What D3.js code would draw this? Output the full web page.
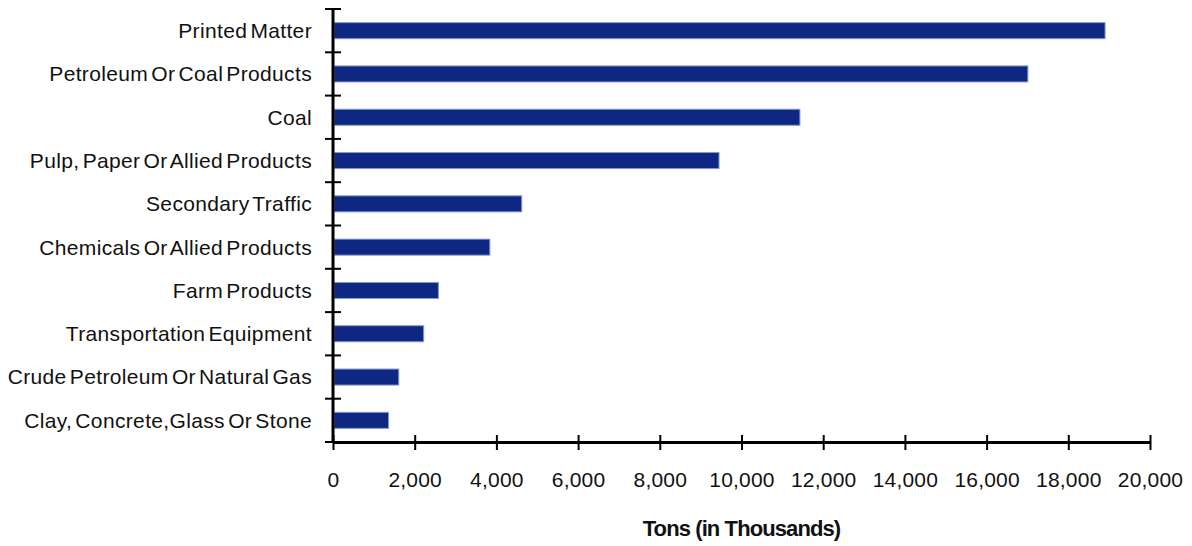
<!DOCTYPE html>
<html>
<head>
<meta charset="utf-8">
<script src="https://cdn.jsdelivr.net/npm/d3@7"></script>
<style>
  body { margin: 0; background: #fff; }
  #chart text { font-family: "Liberation Sans", Arial, sans-serif; fill: #111; }
</style>
</head>
<body>
<div id="chart"></div>
<script>
// commodity tonnage, thousands of tons
var categories = [
  "Printed Matter",
  "Petroleum Or Coal Products",
  "Coal",
  "Pulp, Paper Or Allied Products",
  "Secondary Traffic",
  "Chemicals Or Allied Products",
  "Farm Products",
  "Transportation Equipment",
  "Crude Petroleum Or Natural Gas",
  "Clay, Concrete,Glass Or Stone"
];
var tons = [18900, 17010, 11430, 9450, 4620, 3840, 2580, 2220, 1610, 1360];
var xTicks = [0, 2000, 4000, 6000, 8000, 10000, 12000, 14000, 16000, 18000, 20000];

var svgWidth = 1192;
var svgHeight = 546;

var margin = {
  top: 9,
  right: 42,
  bottom: 104,
  left: 333
};

var width = svgWidth - margin.left - margin.right;
var height = svgHeight - margin.top - margin.bottom;

var svg = d3.select("#chart")
  .append("svg")
  .attr("width", svgWidth)
  .attr("height", svgHeight);

var chartGroup = svg.append("g")
  .attr("transform", `translate(${margin.left}, ${margin.top})`);

var xScale = d3.scaleLinear()
  .domain([0, 20000])
  .range([0, width]);

var yScale = d3.scaleBand()
  .domain(categories)
  .range([0, height])
  .paddingInner(0.63)
  .paddingOuter(0.315);

var yBands = d3.scaleBand()
  .domain(categories)
  .range([0, height]);

// bars
chartGroup.append("g")
  .selectAll("rect")
  .data(categories)
  .enter()
  .append("rect")
  .attr("x", xScale(0) + 1)
  .attr("y", function(d) { return yScale(d); })
  .attr("width", function(d, i) { return xScale(tons[i]) - xScale(0) - 1; })
  .attr("height", yScale.bandwidth())
  .style("fill", "#0e2782")
  .style("stroke", "#8797cf")
  .style("stroke-width", 1);

// y axis: ticks between categories, crossing the line
var yAxisG = chartGroup.append("g");
yAxisG.append("line")
  .attr("x1", 0).attr("x2", 0)
  .attr("y1", 0).attr("y2", height)
  .attr("stroke", "#000").attr("stroke-width", 3);

var yTickPos = categories.map(function(d) { return yBands(d); }).concat([height]);
yAxisG.selectAll("line.tick")
  .data(yTickPos)
  .enter()
  .append("line")
  .attr("class", "tick")
  .attr("x1", -8).attr("x2", 8)
  .attr("y1", function(d) { return d; })
  .attr("y2", function(d) { return d; })
  .attr("stroke", "#000").attr("stroke-width", 2);

yAxisG.selectAll("text")
  .data(categories)
  .enter()
  .append("text")
  .attr("x", -21)
  .attr("y", function(d) { return yBands(d) + yBands.bandwidth() / 2; })
  .attr("dy", "0.35em")
  .style("text-anchor", "end")
  .style("font-size", "21px")
  .style("letter-spacing", "0.35px")
  .style("word-spacing", "-3px")
  .text(function(d) { return d; });

// x axis
var bottomAxis = d3.axisBottom(xScale)
  .tickValues(xTicks)
  .tickSize(0)
  .tickPadding(0)
  .tickFormat(d3.format(","));

var xAxisG = chartGroup.append("g")
  .attr("transform", `translate(0, ${height})`)
  .call(bottomAxis);

xAxisG.select(".domain").attr("stroke", "#000").attr("stroke-width", 3);
xAxisG.selectAll(".tick").append("line")
  .attr("y1", -7).attr("y2", 8)
  .attr("stroke", "#000").attr("stroke-width", 2);
xAxisG.selectAll(".tick text")
  .attr("y", 38)
  .attr("dy", "0.35em")
  .style("font-size", "21px")
  .style("letter-spacing", "0.2px")
  .style("fill", "#111");
xAxisG.attr("font-family", null);

chartGroup.append("text")
  .attr("x", width / 2)
  .attr("y", height + 86)
  .attr("dy", "0.35em")
  .style("text-anchor", "middle")
  .style("font-size", "22px")
  .style("font-weight", "bold")
  .style("letter-spacing", "-0.9px")
  .text("Tons (in Thousands)");
</script>
</body>
</html>
